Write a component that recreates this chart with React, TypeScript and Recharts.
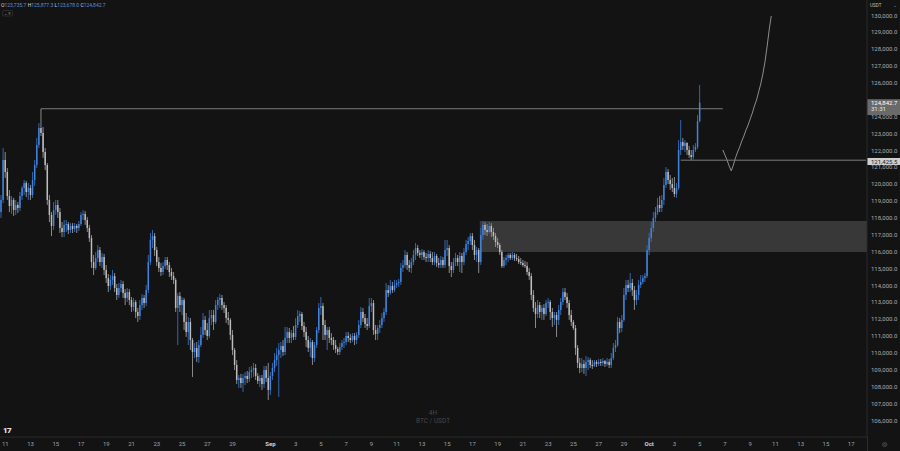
import React from 'react';
import { ComposedChart, Bar, Line, XAxis, YAxis, ReferenceArea, ReferenceLine } from 'recharts';

// ---- data (BTC/USDT, 4H candles) ----
const firstOpen = 118350;
const closes = [
  119070,121440,120730,119300,118710,119070,118470,118770,118590,119300,
  119780,120070,119540,119780,119360,120250,121140,122330,123330,123040,
  121910,121140,119070,118180,117530,118470,118770,118350,117410,117170,
  117590,117640,117290,117530,117350,117530,117410,117640,118180,118240,
  117880,117410,116810,115390,115040,115630,116100,115390,115690,114920,
  114440,113970,114330,114560,113850,113440,113850,114090,113560,113260,
  113610,113140,112730,113020,112430,112190,112840,113260,112960,113730,
  115390,116700,116930,116100,115390,115040,114800,115150,115510,115210,
  114800,114560,114330,112670,113380,112840,113140,111840,111240,111840,
  110770,110060,110300,109760,110470,111070,111960,111360,111010,112070,
  112250,111840,112840,113140,113260,112840,112670,112070,111960,111070,
  110180,109290,108400,108520,108220,108520,108640,108460,108870,108990,
  109110,108640,108340,108520,108160,108990,108520,107810,108640,109110,
  109580,109880,110180,110410,110060,110890,111240,110890,111180,110950,
  111660,112190,112310,111600,111240,110770,110300,110650,109700,110470,
  111360,112670,112780,111660,111070,111360,110890,110770,110470,110240,
  110060,110360,110590,110650,111010,110890,110770,111010,110770,111070,
  111660,112430,112070,111720,111600,112780,112960,111360,111130,111480,
  111660,112070,112430,113730,113560,113970,113730,114030,114150,114210,
  115040,115210,115810,115210,115040,115390,115810,116220,115930,115810,
  115980,115690,115630,115870,115630,115390,115750,115330,115210,115510,
  115210,116100,116220,115150,114920,115390,115630,115390,115750,115390,
  115980,116460,116640,116930,116400,115810,116100,115390,116990,117590,
  117290,117170,117530,117170,116930,116580,116400,115980,115150,115510,
  115630,115810,115630,115810,115630,115570,115390,115330,115210,115150,
  114800,114560,113440,112670,112310,112840,112430,112670,112310,112960,
  113020,112430,112070,112250,111960,112550,113020,113610,113320,112960,
  112250,111840,111480,110300,109410,109110,109350,109110,109470,109580,
  109290,109230,109470,109350,109470,109410,109530,109350,109470,109290,
  109700,110300,110470,111840,111480,111960,113440,114030,113850,114150,
  113730,113140,113440,114030,114210,114440,114560,116100,116810,117410,
  118000,118350,118770,118590,119070,119960,120730,120250,120010,119780,
  119420,119780,122030,122500,122270,122440,122030,121730,121610,122030,
  122210,123735.7,124842.7,
];
const highs = [
  119360,122150,121910,120960,119660,119300,119190,119070,118950,119540,
  119900,120250,120190,120070,119960,120730,121440,122740,123630,124474,
  123390,122150,121260,119360,118350,118950,119070,119070,118590,117760,
  117880,117880,117760,117700,117700,117700,117640,117820,118350,118470,
  118410,118060,117590,116990,115810,115980,116400,116280,115930,115870,
  115210,114680,114620,114920,114740,114090,114150,114330,114270,113790,
  113850,113790,113320,113260,113140,112670,113140,113500,113440,114030,
  115810,117110,117290,117110,116280,115690,115330,115390,115690,115690,
  115390,115040,114800,114440,113560,113610,113320,113260,112370,112130,
  112070,110890,110590,110650,110770,111540,112370,112190,111780,112550,
  112550,112550,113140,113320,113500,113440,113020,112840,112430,112070,
  111360,110300,109580,108700,108760,108760,108870,108930,109170,109230,
  109410,109350,108810,108700,108700,109230,109230,109410,108870,109410,
  110000,110300,110590,110650,110770,111540,111540,111480,111360,111600,
  112070,112550,112490,112430,111840,111540,111010,110890,110770,110650,
  111540,112960,113320,112960,111960,111540,111540,111180,110950,110770,
  110360,110590,110770,110890,111240,111240,111130,111180,111180,111240,
  111960,112730,112670,112310,112070,113260,113260,113140,111660,111660,
  111960,112370,112670,114150,114030,114330,114210,114330,114330,114390,
  115330,115510,116100,115980,115510,115630,116100,116520,116400,116100,
  116160,116100,115930,116100,116040,115980,115980,115870,115630,115750,
  115690,116700,116700,116400,115390,115630,115930,115810,115980,115930,
  116220,116700,116870,117110,117110,116700,116280,116220,117410,117820,
  117760,117640,117760,117700,117410,117110,116810,116520,116100,115690,
  115810,115930,115930,115980,115930,115870,115750,115630,115510,115450,
  115390,115040,114740,113730,113020,113140,113020,112840,112900,113140,
  113260,113140,112670,112430,112430,112840,113260,113850,113850,113560,
  113140,112550,111960,111660,110470,109700,109700,109580,109820,109760,
  109700,109580,109580,109580,109640,109640,109700,109580,109700,109640,
  110000,110590,110770,112130,112070,112250,113850,114330,114330,114740,
  114390,113970,113730,114330,114620,114620,114740,116400,117110,117760,
  118350,118650,119190,119300,119360,120370,121020,120900,120550,120370,
  120430,120070,122620,123810,122740,122620,122500,122270,122030,122330,
  122440,124100,125877.3,
];
const lows = [
  118000,118890,120370,119070,118350,118240,118120,118180,118300,118410,
  119070,119360,119240,119070,119070,119190,119900,120960,122150,122860,
  121560,120840,118770,117760,116930,117290,118180,118000,117110,116870,
  116870,117170,117050,117110,117110,117170,117110,117230,117530,117880,
  117590,117170,116580,115040,114620,114920,115390,115150,115040,114620,
  114150,113610,113730,114030,113610,113140,113260,113610,113260,112840,
  113020,112840,112430,112490,112070,111840,111960,112550,112670,112780,
  113560,115210,116220,115750,115150,114800,114560,114620,114980,114920,
  114500,114330,114090,112430,110470,112430,112250,111360,110950,110470,
  110180,108580,109700,109470,109410,110360,110890,111070,110770,110890,
  111660,111360,111720,112550,112670,112550,112370,111780,111660,110770,
  109880,108990,108160,107930,107930,107690,108100,108220,108280,108520,
  108580,108400,108160,107980,107810,107930,108280,107210,107510,108400,
  108870,109230,107390,109700,109820,109880,110590,110590,110590,110770,
  110770,111480,111840,111360,110950,110360,110060,109760,109290,109470,
  110300,111180,112250,110770,110770,110180,110590,110470,110180,110000,
  109880,109880,110180,110300,110470,110650,110590,110650,110470,110530,
  110890,111480,111840,111480,111360,111480,112430,111070,110770,110770,
  111180,111480,111840,112250,113320,113440,113560,113610,113850,113910,
  114030,114800,115040,114920,114800,114740,115210,115510,115750,115630,
  115510,115510,115390,115390,115390,115210,115210,115100,115040,115040,
  115040,115040,115750,114740,114500,114740,115150,115150,114800,114740,
  115210,115810,116100,116400,116100,115510,115390,114740,115210,116700,
  116990,116930,117050,116870,116700,116280,116220,115810,115040,115040,
  115210,115390,115510,115510,115450,115450,115270,115210,115100,115040,
  114620,114330,113140,112430,111480,112070,112070,111960,111960,112190,
  112670,111960,111540,111660,110950,111660,112250,112840,113140,112670,
  111960,111600,111360,109880,109110,108810,108870,108760,108640,108990,
  109110,109050,109170,109170,109230,109230,109230,109170,109230,109110,
  109110,109580,110060,110360,111180,111240,111840,113140,113610,113610,
  113380,112550,112840,113140,113850,114090,114210,114440,115810,116580,
  117170,117760,118180,118350,118350,118770,119780,120010,119660,119540,
  119240,119190,119660,121730,122030,121910,121730,121560,121430,121470,
  121910,122090,123678.0,
];
// hand-drawn projection (starts at slot 343)
const sketchStart = 343;
const sketch = [
  122030,121730,121440,121080,120790,121140,121560,121910,122210,122560,
  122860,123210,123510,123870,124220,124640,124990,125470,125940,126530,
  127240,128130,129140,129970,
];
const totalSlots = 412;

// x-axis ticks (slot index -> label)
const xTickIdx = [2,14,26,38,50,62,74,86,98,110,128,140,152,164,176,188,200,212,224,236,248,260,272,284,296,308,320,332,344,356,368,380,392,404];
const xTickText = ['11','13','15','17','19','21','23','25','27','29','Sep','3','5','7','9','11','13','15','17','19','21','23','25','27','29','Oct','3','5','7','9','11','13','15','17'];
const yTicksAll = [106000,107000,108000,109000,110000,111000,112000,113000,114000,115000,116000,117000,118000,119000,120000,121000,122000,123000,124000,125000,126000,127000,128000,129000,130000];

// levels / annotations
const athStartSlot = 19;
const athEndSlot = 343;
const athLevel = 124474;
const supportStartSlot = 323;
const supportLevel = 121425.5;
const zoneStartSlot = 228;
const zoneLow = 115985;
const zoneHigh = 117820;
const headerOHLC = { o: 123735.7, h: 125877.3, l: 123678.0, c: 124842.7 };
const lastClose = 124842.7;
const countdown = '31:31';
const yDomain = [105022, 130918];

const UP = '#4283dd';
const UP_WICK = '#3466ae';
const DOWN = '#bdbdbd';
const DOWN_WICK = '#8a8a8a';
const BG = '#131313';
const FONT = 'Roboto, "Noto Sans", sans-serif';

const fmt = (v: number) =>
  v.toLocaleString('en-US', { minimumFractionDigits: 1, maximumFractionDigits: 1 });

const rows = Array.from({ length: totalSlots }, (_, i) => {
  const row: any = { i };
  if (i < closes.length) {
    row.o = i === 0 ? firstOpen : closes[i - 1];
    row.c = closes[i];
    row.h = highs[i];
    row.l = lows[i];
    row.range = [lows[i], highs[i]];
  }
  const s = i - sketchStart;
  if (s >= 0 && s < sketch.length) row.sketch = sketch[s];
  return row;
});

const yTicks = yTicksAll.filter((t) => Math.abs(t - lastClose) > 500);

const Candle = (props: any) => {
  const { x, y, width, height, payload } = props;
  if (!payload || payload.o == null || !isFinite(y) || !isFinite(height)) return null;
  const { o, c } = payload;
  const h = Math.max(payload.h, o, c);
  const l = Math.min(payload.l, o, c);
  const top = Math.min(y, y + height);
  const span = Math.abs(height);
  const toY = (v: number) => (h === l ? top : top + ((h - v) / (h - l)) * span);
  const up = c >= o;
  const cx = x + width / 2;
  const bw = Math.max(1, width * 0.74);
  const bTop = toY(Math.max(o, c));
  const bBot = toY(Math.min(o, c));
  return (
    <g>
      <line x1={cx} x2={cx} y1={top} y2={top + span} stroke={up ? UP_WICK : DOWN_WICK} strokeWidth={1} />
      <rect x={cx - bw / 2} y={bTop} width={bw} height={Math.max(0.9, bBot - bTop)} fill={up ? UP : DOWN} />
    </g>
  );
};

const XTick = (props: any) => {
  const { x, y, payload } = props;
  const k = xTickIdx.indexOf(payload.value);
  const label = k >= 0 ? xTickText[k] : '';
  const isMonth = label === 'Sep' || label === 'Oct';
  return (
    <text x={x} y={y} dy="0.35em" textAnchor="middle" fontSize={6} fontFamily={FONT}
      fill={isMonth ? '#d4d4d4' : '#a0a0a0'} fontWeight={isMonth ? 700 : 400}>
      {label}
    </text>
  );
};

const LastPriceLabel = (p: any) => {
  const vb = p.viewBox || {};
  const yy = vb.y;
  const xx = (vb.x || 0) + (vb.width || 0);
  return (
    <g>
      <rect x={xx} y={yy - 3.3} width={33} height={15.8} fill="#6a6a6a" />
      <text x={xx + 4} y={yy + 2.1} fontSize={6} fontFamily={FONT} fill="#ffffff">{fmt(lastClose)}</text>
      <text x={xx + 4} y={yy + 8.9} fontSize={6} fontFamily={FONT} fill="#e8e8e8">{countdown}</text>
    </g>
  );
};

const SupportLabel = (p: any) => {
  const vb = p.viewBox || {};
  const yy = vb.y;
  const xx = (vb.x || 0) + (vb.width || 0);
  return (
    <g>
      <rect x={xx} y={yy - 2.2} width={33} height={7} fill="#cfcfcf" />
      <text x={xx + 4} y={yy + 3.4} fontSize={6} fontFamily={FONT} fill="#1c1c1c">{fmt(supportLevel)}</text>
    </g>
  );
};

export default function App() {
  return (
    <div style={{ position: 'fixed', left: 0, top: 0, width: 900, height: 451, background: BG, overflow: 'hidden' }}>
      <ComposedChart width={900} height={451} data={rows} margin={{ top: 0, right: 0, bottom: 0, left: 0 }} barCategoryGap={0} barGap={0}>
        <XAxis dataKey="i" type="category" ticks={xTickIdx} interval={0} height={14}
          tickSize={0} tickMargin={7} tick={<XTick />} axisLine={{ stroke: '#2b2b2b' }} tickLine={false} />
        <YAxis orientation="right" width={33} domain={yDomain} allowDataOverflow type="number"
          ticks={yTicks} interval={0} tickSize={0} tickMargin={4} tickLine={false}
          axisLine={{ stroke: '#2b2b2b' }} tickFormatter={fmt}
          tick={{ fill: '#ababab', fontSize: 6, fontFamily: FONT }} />
        <ReferenceArea x1={zoneStartSlot} y1={zoneLow} y2={zoneHigh} fill="#ffffff" fillOpacity={0.16} stroke="none" ifOverflow="visible" />
        <Bar dataKey="range" shape={Candle} isAnimationActive={false} />
        <Line dataKey="sketch" type="linear" stroke="#8d8d8d" strokeWidth={1} dot={false} activeDot={false} isAnimationActive={false} connectNulls={false} />
        <ReferenceLine segment={[{ x: athStartSlot, y: athLevel }, { x: athEndSlot, y: athLevel }]} stroke="#7c7c7c" strokeWidth={1} ifOverflow="visible" />
        <ReferenceLine segment={[{ x: supportStartSlot, y: supportLevel }, { x: totalSlots - 1, y: supportLevel }]} stroke="#7c7c7c" strokeWidth={1} ifOverflow="visible" />
        <ReferenceLine y={supportLevel} stroke="none" ifOverflow="visible" label={SupportLabel} />
        <ReferenceLine y={lastClose} stroke="none" ifOverflow="visible" label={LastPriceLabel} />
      </ComposedChart>
      <svg width={900} height={451} style={{ position: 'absolute', left: 0, top: 0, pointerEvents: 'none' }}>
        <text x={1} y={7} fontSize={5} fontFamily={FONT}>
          <tspan fill="#d6d6d6">O</tspan><tspan fill="#5a8fdc">{fmt(headerOHLC.o)}</tspan>
          <tspan fill="#d6d6d6"> H</tspan><tspan fill="#5a8fdc">{fmt(headerOHLC.h)}</tspan>
          <tspan fill="#d6d6d6"> L</tspan><tspan fill="#5a8fdc">{fmt(headerOHLC.l)}</tspan>
          <tspan fill="#d6d6d6"> C</tspan><tspan fill="#5a8fdc">{fmt(headerOHLC.c)}</tspan>
        </text>
        <rect x={2.5} y={10.5} width={10} height={5.5} rx={1} fill="none" stroke="#3a3a3a" strokeWidth={0.6} />
        <text x={7.5} y={14.8} fontSize={4} fontFamily={FONT} fill="#9a9a9a" textAnchor="middle">⌄ 9</text>
        <text x={870} y={6.8} fontSize={4.6} fontFamily={FONT} fill="#bdbdbd">USDT</text>
        <text x={893} y={6.5} fontSize={4.6} fontFamily={FONT} fill="#9a9a9a">⌄</text>
        <text x={433} y={414.5} fontSize={6.5} fontFamily={FONT} fill="#474747" textAnchor="middle">4H</text>
        <text x={433} y={422.5} fontSize={6.5} fontFamily={FONT} fill="#474747" textAnchor="middle">BTC / USDT</text>
        <text x={3} y={432.5} fontSize={8} fontWeight={900} fontFamily={FONT} fill="#e6e6e6" letterSpacing={-0.6}>17</text>
        <line x1={867.5} x2={867.5} y1={437} y2={451} stroke="#2b2b2b" strokeWidth={1} />
        <text x={884} y={446.2} fontSize={6} fontFamily={FONT} fill="#8a8a8a" textAnchor="middle">◎</text>
      </svg>
    </div>
  );
}
